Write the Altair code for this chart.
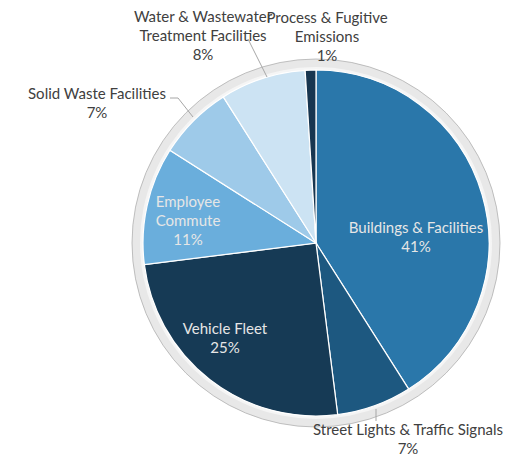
import altair as alt
import pandas as pd

# ---- data ----
categories = [
    "Buildings & Facilities",
    "Street Lights & Traffic Signals",
    "Vehicle Fleet",
    "Employee Commute",
    "Solid Waste Facilities",
    "Water & Wastewater Treatment Facilities",
    "Process & Fugitive Emissions",
]
values = [41, 7, 25, 11, 7, 8, 1]
label_text = [
    "Buildings & Facilities",
    "Street Lights & Traffic Signals",
    "Vehicle Fleet",
    "Employee\nCommute",
    "Solid Waste Facilities",
    "Water & Wastewater\nTreatment Facilities",
    "Process & Fugitive\nEmissions",
]

# ---- styles / layout ----
colors = ["#2A77AA", "#1D5880", "#163A55", "#6AAEDC", "#9ECAE9", "#CCE3F3", "#173650"]
text_colors = ["#E6E6E6", "#404040", "#E6E6E6", "#E6E6E6", "#404040", "#404040", "#404040"]
label_x = [408, 400, 217, 180, 89, 195, 319]
label_y = [220, 422, 321, 194, 86, 9, 10]
CX, CY, R = 308, 235, 173

df = pd.DataFrame({"category": categories, "value": values, "order": list(range(len(values)))})

lab = pd.DataFrame({
    "text": [t + "\n" + f"{v}%" for t, v in zip(label_text, values)],
    "lx": label_x,
    "ly": label_y,
    "tc": text_colors,
})

leaders = pd.DataFrame({
    "x": [240, 162, 170, 368],
    "y": [31, 90, 90, 401],
    "x2": [259, 170, 185, 368],
    "y2": [69, 90, 109, 413],
})

ring = alt.Chart(pd.DataFrame({"k": [0]})).mark_arc(
    radius=184, theta=0, theta2=6.2832, fill="#E8E8E8", stroke="#B0B0B0", strokeWidth=0.8
).encode(x=alt.value(CX), y=alt.value(CY))

inner = alt.Chart(pd.DataFrame({"k": [0]})).mark_arc(
    radius=176, theta=0, theta2=6.2832, fill="#F5F5F5"
).encode(x=alt.value(CX), y=alt.value(CY))

pie = alt.Chart(df).mark_arc(radius=R, stroke="white", strokeWidth=1.2).encode(
    theta=alt.Theta("value:Q", stack=True),
    color=alt.Color("category:N", scale=alt.Scale(domain=categories, range=colors), legend=None),
    order=alt.Order("order:Q"),
    x=alt.value(CX),
    y=alt.value(CY),
)

lines = alt.Chart(leaders).mark_rule(color="#A6A6A6", strokeWidth=1).encode(
    x=alt.X("x:Q", scale=None),
    y=alt.Y("y:Q", scale=None),
    x2="x2:Q",
    y2="y2:Q",
)

texts = alt.Chart(lab).mark_text(
    font="Lato", fontSize=15, lineBreak="\n", lineHeight=19, baseline="middle", align="center"
).encode(
    x=alt.X("lx:Q", scale=None),
    y=alt.Y("ly:Q", scale=None),
    text="text:N",
    color=alt.Color("tc:N", scale=None),
)

chart = alt.layer(ring, inner, pie, lines, texts).properties(
    width=500, height=448, autosize=alt.AutoSizeParams(type="none"), padding=0
).configure_view(stroke=None)

chart.save("out.html", embed_options={"renderer": "svg", "actions": False})
